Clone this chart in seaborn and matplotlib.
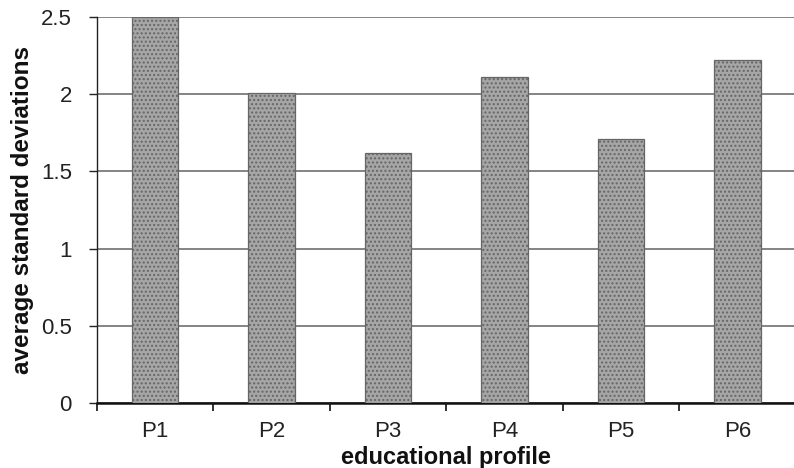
import numpy as np
import pandas as pd
import matplotlib
matplotlib.use("Agg")
import matplotlib.pyplot as plt
import seaborn as sns

# Data
profiles = ['P1', 'P2', 'P3', 'P4', 'P5', 'P6']
avg_sd = [2.5, 2.01, 1.62, 2.11, 1.71, 2.22]
df = pd.DataFrame({'profile': profiles, 'avg_sd': avg_sd})

sns.set_style('white')
plt.rcParams['font.family'] = ['Liberation Sans', 'DejaVu Sans']
plt.rcParams['hatch.color'] = '#7a7a7a'

fig = plt.figure(figsize=(7.94, 4.68), dpi=100)
ax = fig.add_axes([0.122, 0.139, 0.88, 0.825])

sns.barplot(x='profile', y='avg_sd', data=df, ax=ax, width=0.4,
            color='#a6a6a6', edgecolor='#666666', linewidth=0.9,
            hatch='....', saturation=1, zorder=3)

# Axes styling
ax.set_ylim(0, 2.5)
ax.set_xlim(-0.5, 5.5)
ax.set_yticks([0, 0.5, 1, 1.5, 2, 2.5])
ax.set_yticklabels(['0', '0.5', '1', '1.5', '2', '2.5'])
ax.yaxis.grid(True, color='#6f6f6f', linewidth=1.2, zorder=0)
ax.set_axisbelow(True)

# x ticks sit between categories
ax.set_xticks(np.arange(-0.5, 6.0, 1.0), minor=True)
ax.tick_params(axis='x', which='major', length=0, pad=13, labelsize=16,
               labelcolor='#222222')
ax.tick_params(axis='x', which='minor', length=6, width=1.3, color='#222222',
               direction='out', bottom=True)
ax.tick_params(axis='y', which='major', length=6, width=1.0, color='#222222',
               direction='out', left=True, labelsize=16, pad=12,
               labelcolor='#222222')

for s in ['top', 'right']:
    ax.spines[s].set_visible(False)
ax.spines['left'].set_color('#222222')
ax.spines['left'].set_linewidth(1.0)
ax.spines['bottom'].set_color('#111111')
ax.spines['bottom'].set_linewidth(1.8)

ax.set_xlabel('educational profile', fontsize=17, fontweight='bold',
              labelpad=3, color='#111111')
ax.set_ylabel('average standard deviations', fontsize=17.5, fontweight='bold',
              labelpad=5, color='#111111')

fig.savefig('out.png', dpi=100)
